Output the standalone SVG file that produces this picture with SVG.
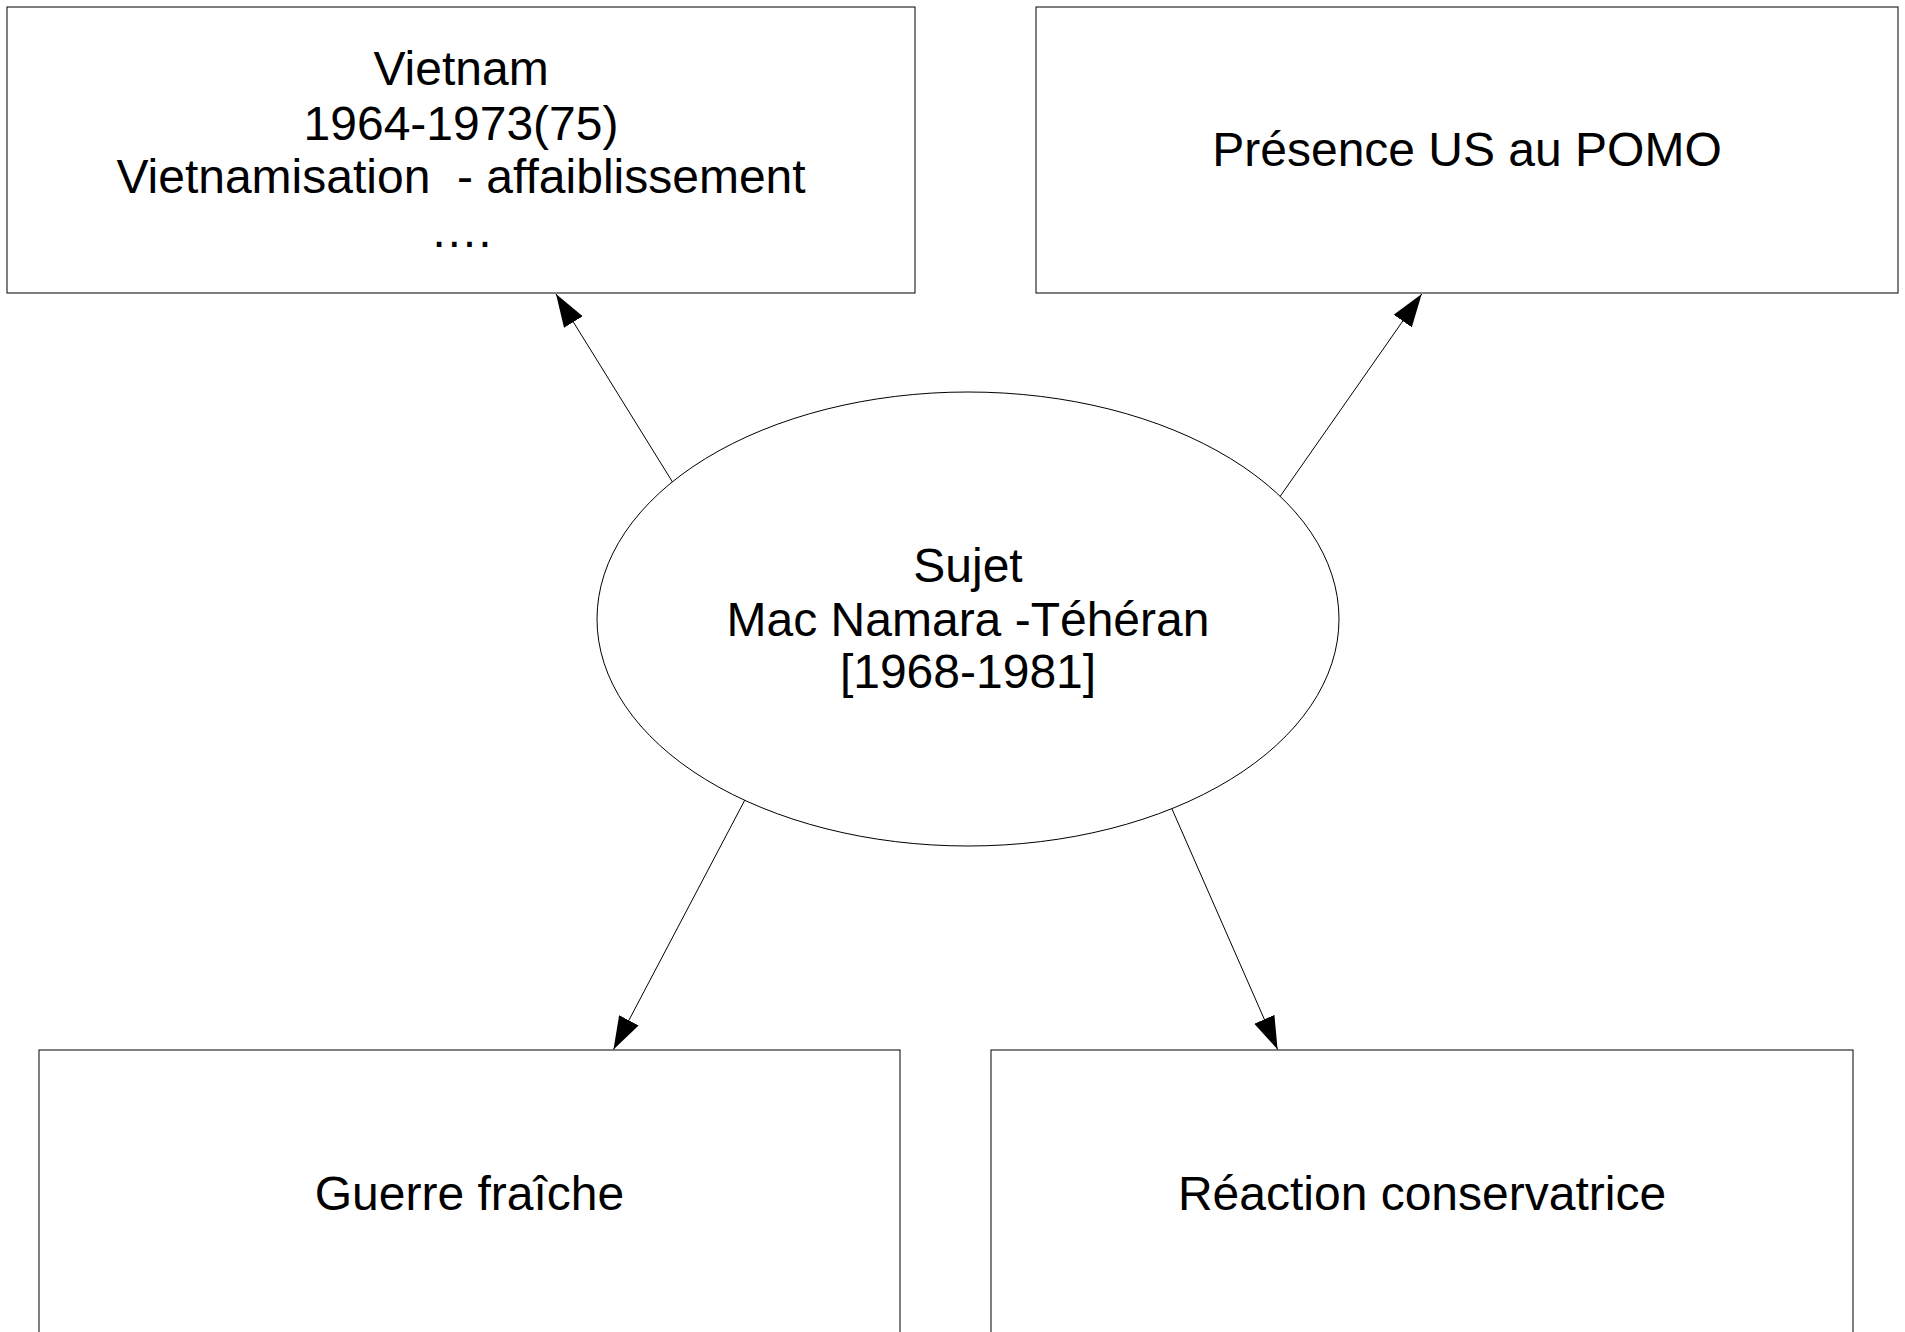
<svg xmlns="http://www.w3.org/2000/svg" width="1905" height="1332" viewBox="0 0 1905 1332">
  <style>
    .box { fill: #ffffff; stroke: #000000; stroke-width: 1; }
    .lbl { font-family: "Liberation Sans", Arial, sans-serif; font-size: 48px; fill: #000000; text-anchor: middle; white-space: pre; }
    .edge { stroke: #000000; stroke-width: 1; fill: none; marker-end: url(#arrow); }
  </style>
  <defs>
    <marker id="arrow" markerUnits="userSpaceOnUse" markerWidth="34" markerHeight="24" refX="33" refY="11" orient="auto" viewBox="0 0 34 24">
      <path d="M0,0 L33,11 L0,22 z" fill="#000000"/>
    </marker>
  </defs>
  <rect width="1905" height="1332" fill="#ffffff"/>

  <g id="connectors">
    <line class="edge" x1="672.5" y1="482" x2="556" y2="294"/>
    <line class="edge" x1="1278.3" y1="499" x2="1421.7" y2="294"/>
    <line class="edge" x1="748.4" y1="793.3" x2="613.5" y2="1049.5"/>
    <line class="edge" x1="1172" y1="809" x2="1277.6" y2="1049.5"/>
  </g>

  <g id="node-vietnam">
    <rect class="box" x="7" y="7" width="908" height="286"/>
    <text class="lbl" x="461" y="85">Vietnam</text>
    <text class="lbl" x="461" y="140">1964-1973(75)</text>
    <text class="lbl" x="461" y="193" xml:space="preserve">Vietnamisation  - affaiblissement</text>
    <text class="lbl" x="461" y="247">….</text>
  </g>

  <g id="node-presence">
    <rect class="box" x="1036" y="7" width="862" height="286"/>
    <text class="lbl" x="1467" y="166">Présence US au POMO</text>
  </g>

  <g id="node-sujet">
    <ellipse class="box" cx="968" cy="619" rx="371" ry="227"/>
    <text class="lbl" x="968" y="581.5">Sujet</text>
    <text class="lbl" x="968" y="636">Mac Namara -Téhéran</text>
    <text class="lbl" x="968" y="688">[1968-1981]</text>
  </g>

  <g id="node-guerre">
    <rect class="box" x="39" y="1050" width="861" height="290"/>
    <text class="lbl" x="469.5" y="1210">Guerre fraîche</text>
  </g>

  <g id="node-reaction">
    <rect class="box" x="991" y="1050" width="862" height="290"/>
    <text class="lbl" x="1422" y="1210">Réaction conservatrice</text>
  </g>
</svg>
